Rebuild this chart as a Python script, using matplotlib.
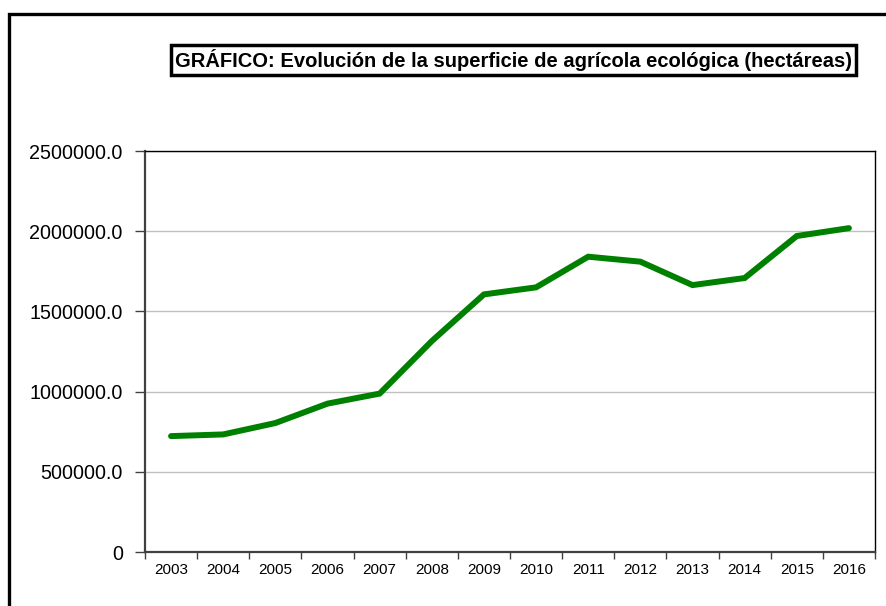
import matplotlib
matplotlib.use("Agg")
import matplotlib.pyplot as plt
import matplotlib.patches as patches
from matplotlib.ticker import FuncFormatter, MultipleLocator

plt.rcParams['font.family'] = ['Liberation Sans', 'DejaVu Sans']

years = ['2003', '2004', '2005', '2006', '2007', '2008', '2009',
         '2010', '2011', '2012', '2013', '2014', '2015', '2016']
superficie = [722500, 733000, 804000, 925000, 987500, 1315000, 1606000,
              1650000, 1841000, 1810000, 1664000, 1708000, 1970000, 2019000]
titulo = 'GRÁFICO: Evolución de la superficie de agrícola ecológica (hectáreas)'

W, H = 886, 606
fig = plt.figure(figsize=(W / 100, H / 100), dpi=100)

# outer frame, runs off the right and bottom edges
frame = patches.Rectangle((8.5 / W, -0.1), 1.2, 1.1 - 13.5 / H,
                          transform=fig.transFigure, fill=False,
                          edgecolor='black', linewidth=2.4)
fig.patches.append(frame)

ax = fig.add_axes([145 / W, 1 - 552 / H, 730 / W, 401 / H])
x = list(range(len(years)))
ax.plot(x, superficie, color='#008000', linewidth=4.3,
        solid_capstyle='round', solid_joinstyle='miter', zorder=3)

ax.set_xlim(-0.5, len(years) - 0.5)
ax.set_ylim(0, 2500000)
ax.yaxis.set_major_locator(MultipleLocator(500000))
ax.yaxis.set_major_formatter(FuncFormatter(lambda v, p: '0' if v == 0 else f'{v:.1f}'))
ax.grid(axis='y', color='#c0c0c0', linewidth=1)
ax.set_axisbelow(True)

ax.set_xticks([i - 0.5 for i in range(len(years) + 1)])
ax.set_xticklabels([])
ax.set_xticks(x, minor=True)
ax.set_xticklabels(years, minor=True, fontsize=11)
ax.tick_params(axis='x', which='minor', length=0, pad=8)
ax.tick_params(axis='x', which='major', length=5, width=1, color='#404040', direction='out')
ax.tick_params(axis='y', length=7, width=1, color='#404040', labelsize=14.2, pad=9)

for s in ('left', 'bottom'):
    ax.spines[s].set_color('#404040')
    ax.spines[s].set_linewidth(1.6)
for s in ('top', 'right'):
    ax.spines[s].set_color('black')
    ax.spines[s].set_linewidth(1)

fig.text(513.5 / W, 1 - 60 / H, titulo, ha='center', va='center',
         fontsize=14.5, fontweight='bold',
         bbox=dict(boxstyle='square,pad=0.22', facecolor='white',
                   edgecolor='black', linewidth=2.5))

fig.savefig('out.png', dpi=100)
